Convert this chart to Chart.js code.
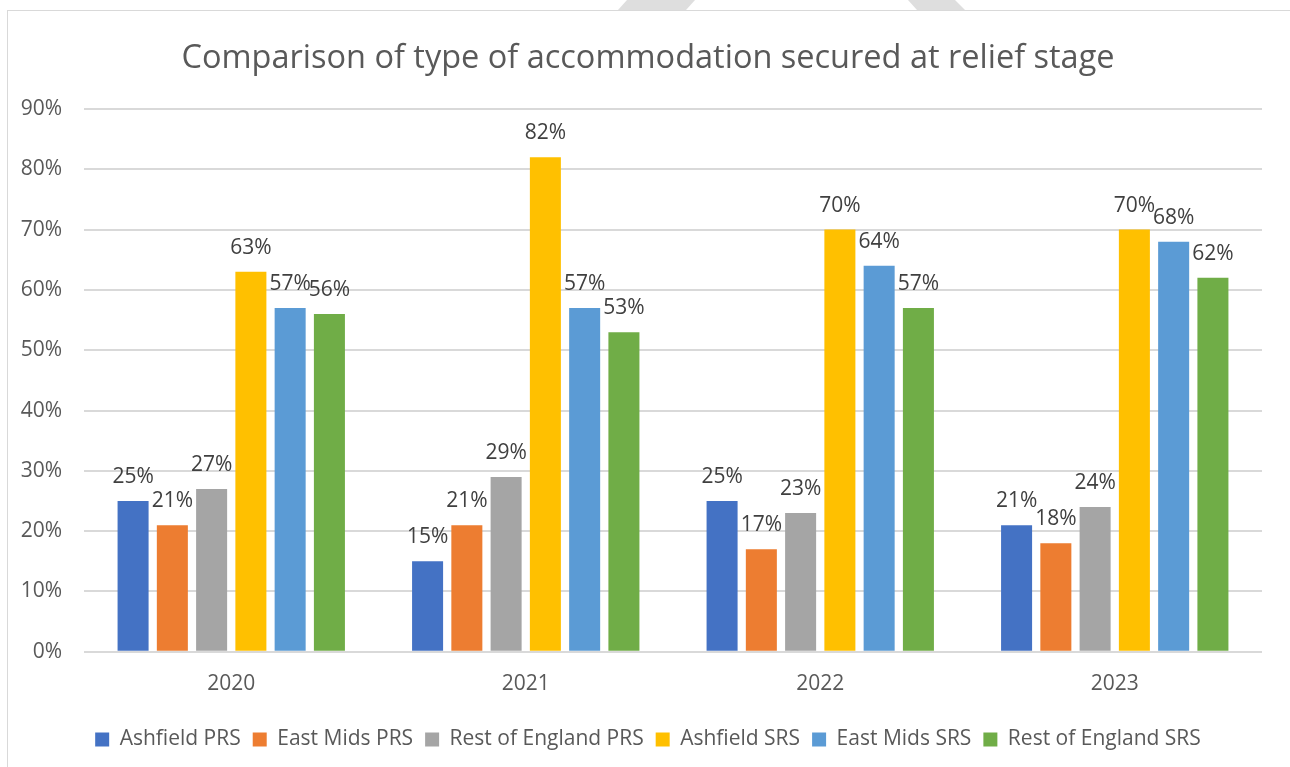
<!DOCTYPE html>
<html>
<head>
<meta charset="utf-8">
<script src="https://cdn.jsdelivr.net/npm/chart.js@4/dist/chart.umd.min.js"></script>
<style>
  html, body { margin: 0; padding: 0; background: #fff; }
  #wrap { position: relative; width: 1290px; height: 767px; overflow: hidden; }
  #frame { position: absolute; left: 7px; top: 10px; width: 1400px; height: 900px; border: 1px solid #d9d9d9; box-sizing: border-box; }
  #mark { position: absolute; left: 0; top: 0; }
  #graph { position: absolute; left: 0; top: 0; }
</style>
</head>
<body>
<div id="wrap">
  <div id="frame"></div>
  <svg id="mark" width="1290" height="11">
    <polygon points="627,0 695,0 686,10 618,10" fill="#dedede"/>
    <polygon points="908,0 955,0 965,10 917,10" fill="#dedede"/>
  </svg>
  <canvas id="graph" width="1290" height="767"></canvas>
</div>
<script>
// 데이터
var years = ['2020', '2021', '2022', '2023'];
var seriesNames = ['Ashfield PRS', 'East Mids PRS', 'Rest of England PRS', 'Ashfield SRS', 'East Mids SRS', 'Rest of England SRS'];
var ashfieldPRS = [25, 15, 25, 21];
var eastMidsPRS = [21, 21, 17, 18];
var restPRS = [27, 29, 23, 24];
var ashfieldSRS = [63, 82, 70, 70];
var eastMidsSRS = [57, 57, 64, 68];
var restSRS = [56, 53, 57, 62];
var yTicks = [0, 10, 20, 30, 40, 50, 60, 70, 80, 90];

var colors = ['#4472C4', '#ED7D31', '#A5A5A5', '#FFC000', '#5B9BD5', '#70AD47'];
var values = [ashfieldPRS, eastMidsPRS, restPRS, ashfieldSRS, eastMidsSRS, restSRS];
var FONT = "'Open Sans', sans-serif";

// 막대 위에 값 표시
var valueLabels = {
	id: 'valueLabels',
	afterLayout: function(chart) {
		// y축 라벨이 잘리지 않도록 축 영역을 왼쪽 끝까지 넓힘
		chart.scales.y.left = 0;
	},
	afterDatasetsDraw: function(chart) {
		var ctx = chart.ctx;
		ctx.save();
		ctx.font = '21px ' + FONT;
		ctx.fillStyle = '#404040';
		ctx.textAlign = 'center';
		ctx.textBaseline = 'alphabetic';
		chart.data.datasets.forEach(function(ds, i) {
			chart.getDatasetMeta(i).data.forEach(function(bar, j) {
				ctx.fillText(ds.data[j] + '%', bar.x, bar.y - 18);
			});
		});
		ctx.restore();
	}
};

var ctx = document.getElementById('graph').getContext('2d');
var myChart = new Chart(ctx, {
	type: 'bar',
	data: {
		labels: years,
		datasets: seriesNames.map(function(name, i) {
			return {
				label: name,
				data: values[i],
				backgroundColor: colors[i],
				borderWidth: 0,
				categoryPercentage: 0.8,
				barPercentage: 0.79
			};
		})
	},
	plugins: [valueLabels],
	options: {
		animation: false,
		responsive: false,
		maintainAspectRatio: false,
		layout: { padding: { left: 34, right: 28, top: 39, bottom: 7 } },
		scales: {
			y: {
				min: 0,
				max: 90,
				border: { display: false },
				afterFit: function(axis) { axis.width = 50; },
				afterBuildTicks: function(axis) {
					axis.ticks = yTicks.map(function(v) { return { value: v }; });
				},
				ticks: {
					padding: 22,
					color: '#595959',
					font: { size: 21, family: FONT },
					callback: function(v) { return v + '%'; }
				},
				grid: { color: '#d9d9d9', lineWidth: 2, drawTicks: false }
			},
			x: {
				border: { display: false },
				grid: { display: false, drawTicks: false },
				ticks: {
					padding: 20,
					color: '#595959',
					font: { size: 21, family: FONT }
				}
			}
		},
		plugins: {
			title: {
				display: true,
				text: 'Comparison of type of accommodation secured at relief stage',
				color: '#595959',
				font: { size: 32.5, family: FONT, weight: 'normal' },
				padding: { top: 0, bottom: 31 }
			},
			legend: {
				display: true,
				position: 'bottom',
				labels: {
					boxWidth: 14,
					boxHeight: 14,
					color: '#595959',
					font: { size: 21, family: FONT },
					padding: 12
				}
			},
			tooltip: { enabled: false }
		}
	}
});
</script>
</body>
</html>
